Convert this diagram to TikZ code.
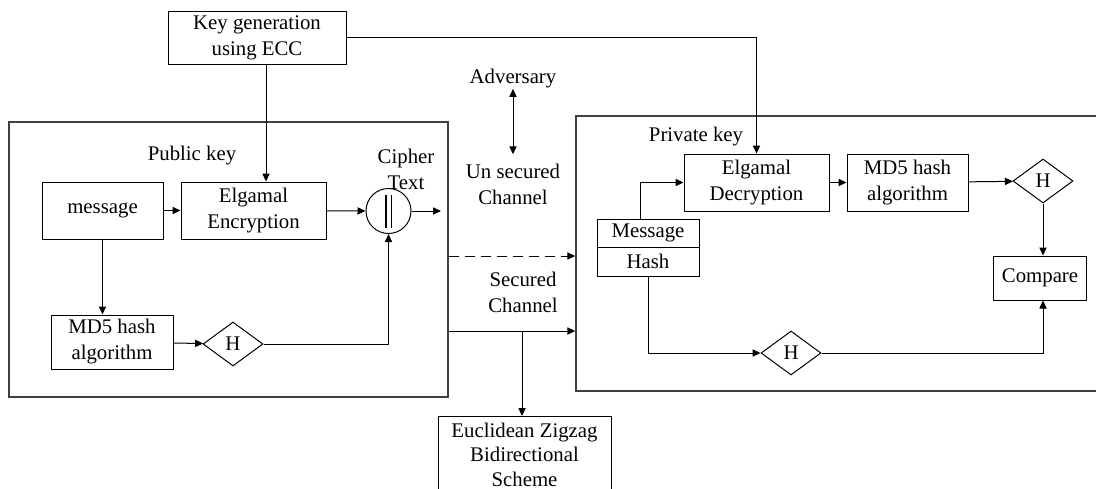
\documentclass[tikz,border=0pt]{standalone}
\usepackage{fontspec}
\setmainfont{Liberation Serif}
\usetikzlibrary{arrows.meta,shapes.geometric}
\tikzset{
  blk/.style={draw, line width=0.5pt, inner sep=0pt, align=center},
  hsh/.style={draw, diamond, aspect=1.36, line width=0.5pt, inner sep=0pt, minimum width=30pt, minimum height=22pt},
  area/.style={draw=black!75, line width=0.7pt, inner sep=0pt},
  lbl/.style={inner sep=0pt, align=center},
  arr/.style={-{Triangle[length=4pt,width=3.6pt]}, line width=0.5pt},
}

\begin{document}
\begin{tikzpicture}[x=0.5pt, y=-0.5pt, font=\fontsize{10.4}{13}\selectfont]
  \useasboundingbox (0,0) rectangle (1096,488);

  % Sender and receiver areas
  \node[area, minimum width=219.5pt, minimum height=137.5pt] (lbox) at (228.5,259.5) {};
  \node[area, minimum width=264pt, minimum height=137.5pt] (rbox) at (840,253.5) {};

  % Key generation
  \node[blk, minimum width=89pt, minimum height=26.5pt] (keygen) at (257,37.5) {Key generation\\using ECC};

  % Sender side
  \node[lbl] (pubkey) at (192,156) {Public key};
  \node[blk, minimum width=60.5pt, minimum height=28.5pt] (msg) at (102.5,210.5) {message};
  \node[blk, minimum width=72.5pt, minimum height=28.5pt] (enc) at (253.5,210.5) {Elgamal\\Encryption};
  \node[draw, circle, line width=0.5pt, minimum size=22.5pt, inner sep=0pt] (concat) at (388.5,211) {};
  \node[lbl] (cipher) at (406,169) {Cipher\\Text};
  \node[blk, minimum width=61pt, minimum height=27pt] (md5a) at (112,342) {MD5 hash\\algorithm};
  \node[hsh] (ha) at (233,344) {H};

  % Channels
  \node[lbl] (adv) at (513,79) {Adversary};
  \node[lbl] (unsec) at (513,184) {Un secured\\Channel};
  \node[lbl] (secured) at (523,292) {Secured\\Channel};
  \node[blk, minimum width=86.5pt, minimum height=38pt, anchor=north,
        font=\fontsize{10.4}{12.2}\selectfont] (euclid) at (524.5,416) {Euclidean Zigzag\\Bidirectional\\Scheme};
  \coordinate (dsh) at (512,256);
  \coordinate (sec) at (522,331);
  \coordinate (cout) at (441,211);

  % Receiver side
  \node[lbl] (privkey) at (696,137) {Private key};
  \node[blk, minimum width=51pt, minimum height=14pt] (msgpart) at (648,233) {Message};
  \node[blk, minimum width=51pt, minimum height=14.5pt] (hashpart) at (648,261.5) {Hash};
  \node[blk, minimum width=72.5pt, minimum height=28.5pt] (dec) at (756.5,182.5) {Elgamal\\Decryption};
  \node[blk, minimum width=60.5pt, minimum height=28.5pt] (md5b) at (907.5,182.5) {MD5 hash\\algorithm};
  \node[hsh] (hb) at (1043,181) {H};
  \node[blk, minimum width=46.5pt, minimum height=22pt] (compare) at (1040,278) {Compare};
  \node[hsh] (hc) at (791,353) {H};

  % Concatenation bars
  \draw[line width=0.6pt] ([xshift=-1.3pt,yshift=8pt]concat.center) -- ++(0,-16.5pt);
  \draw[line width=0.6pt] ([xshift=1.3pt,yshift=8pt]concat.center) -- ++(0,-16.5pt);

  % Connectors
  \draw[arr] ([xshift=4.5pt]keygen.south) -- ([xshift=4.5pt]keygen.south |- enc.north);
  \draw[arr] (keygen.east) -| (dec.north);
  \draw[arr] (msg) -- (enc);
  \draw[arr] (enc) -- (concat);
  \draw[arr] (concat) -- (cout);
  \draw[arr] (msg.south) -- (msg.south |- md5a.north);
  \draw[arr] (md5a) -- (ha);
  \draw[arr] (ha.east) -| (concat.south);
  \draw[{Triangle[length=4pt,width=3.6pt]}-{Triangle[length=4pt,width=3.6pt]}, line width=0.5pt]
    (adv.south) -- ([yshift=4.5pt]unsec.north);
  \draw[arr, dashed, dash pattern=on 5pt off 3pt] (lbox.east |- dsh) -- (rbox.west |- dsh);
  \draw[arr] (lbox.east |- sec) -- (rbox.west |- sec);
  \draw[arr] (sec) -- (sec |- euclid.north);
  \draw[arr] ([xshift=-4pt]msgpart.north) |- (dec.west);
  \draw[arr] (dec) -- (md5b);
  \draw[arr] (md5b) -- (hb);
  \draw[arr] (hb.south) -- (hb.south |- compare.north);
  \draw[arr] (hashpart.south) |- (hc.west);
  \draw[arr] (hc.east) -| (hb.south |- compare.south);
\end{tikzpicture}
\end{document}
